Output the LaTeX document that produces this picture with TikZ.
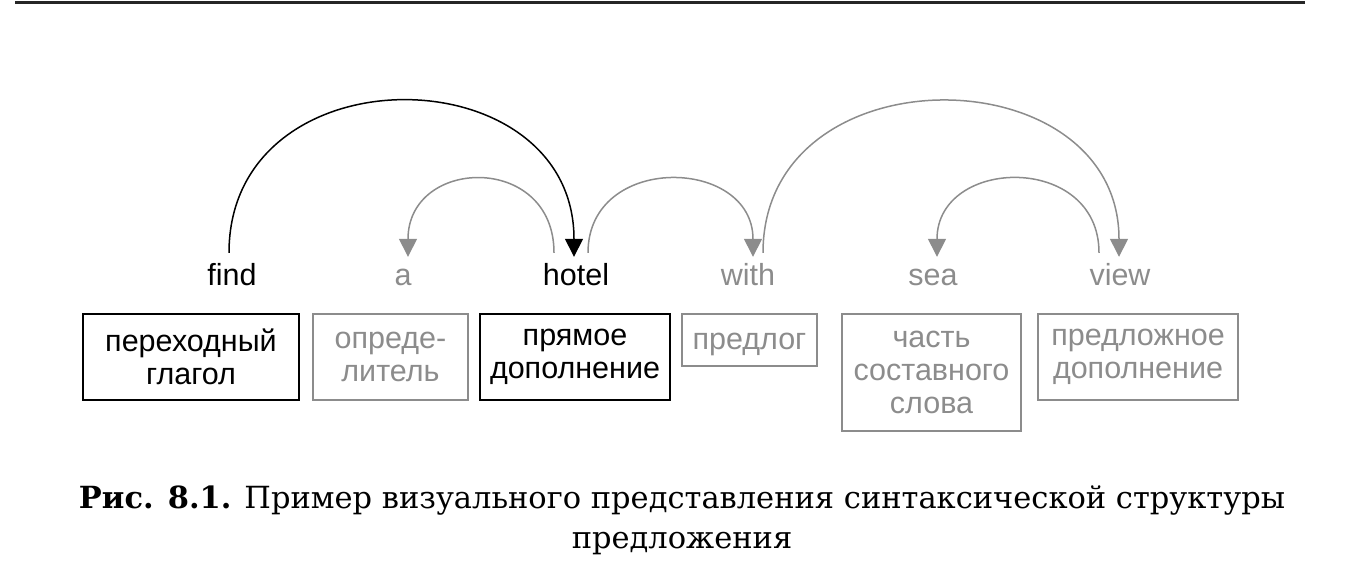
\documentclass[tikz,border=0pt]{standalone}
\usepackage{fontspec}
\setmainfont{DejaVu Serif}
\newfontfamily\wordfont{Liberation Sans}
\usepackage{tikz}
\usetikzlibrary{arrows.meta}
\definecolor{linkgray}{RGB}{140,140,140}

\tikzset{
	word/.style={font=\wordfont\fontsize{30.5}{33}\selectfont, anchor=base, inner xsep=0pt, inner ysep=6pt, text height=22pt, text depth=0pt},
	rolebox/.style={draw, line width=1.5pt, font=\wordfont\fontsize{30.5}{33}\selectfont, align=center, anchor=north, inner sep=0pt},
	faded/.style={color=linkgray},
	deplink/.style={line width=1.5pt, -{Triangle[length=18pt,width=18pt]}},
}

\begin{document}
\begin{tikzpicture}[x=1pt, y=1pt]
	\useasboundingbox (0,0) rectangle (1364,566);

	% Rule above the figure
	\draw[line width=3pt, black!85] (15,563.5) -- (1305,563.5);

	% Words of the sentence
	\node[word] (find) at (232,281) {find};
	\node[word, faded] (a) at (403,281) {a};
	\node[word] (hotel) at (576,281) {hotel};
	\node[word, faded] (with) at (748,281) {with};
	\node[word, faded] (sea) at (933,281) {sea};
	\node[word, faded] (view) at (1120,281) {view};

	% Syntactic roles under each word
	\node[rolebox, minimum width=216pt, minimum height=86pt] (verb) at (191,253) {переходный\\глагол};
	\node[rolebox, faded, minimum width=155pt, minimum height=86pt] (det) at (390.5,253) {опреде-\\литель};
	\node[rolebox, minimum width=190pt, minimum height=86pt] (dobj) at (575,253) {прямое\\дополнение};
	\node[rolebox, faded, minimum width=135pt, minimum height=52pt, text height=20pt, text depth=0pt] (prep) at (749.5,253) {предлог};
	\node[rolebox, faded, minimum width=179pt, minimum height=117pt] (compound) at (931.5,253) {часть\\составного\\слова};
	\node[rolebox, faded, minimum width=200pt, minimum height=86pt] (pobj) at (1138,253) {предложное\\дополнение};

	% Dependency arcs, head to dependent
	\draw[deplink] ([xshift=-3pt,yshift=4pt]find.north) to[out=90, in=90, looseness=1.51] ([xshift=-2pt]hotel.north);
	\draw[deplink, faded] ([xshift=-22pt,yshift=4pt]hotel.north) to[out=90, in=90, looseness=1.75] ([xshift=5pt]a.north);
	\draw[deplink, faded] ([xshift=12pt,yshift=4pt]hotel.north) to[out=90, in=90, looseness=1.55] ([xshift=5pt]with.north);
	\draw[deplink, faded] ([xshift=15pt,yshift=4pt]with.north) to[out=90, in=90, looseness=1.46] ([xshift=-1pt]view.north);
	\draw[deplink, faded] ([xshift=-21pt,yshift=4pt]view.north) to[out=90, in=90, looseness=1.58] ([xshift=4pt]sea.north);

	% Caption
	\node[font=\fontsize{30.5}{40}\selectfont, align=center, inner sep=0pt] (caption) at (682,46) {\textbf{Рис. 8.1.} Пример визуального представления синтаксической структуры\\предложения};
\end{tikzpicture}
\end{document}
